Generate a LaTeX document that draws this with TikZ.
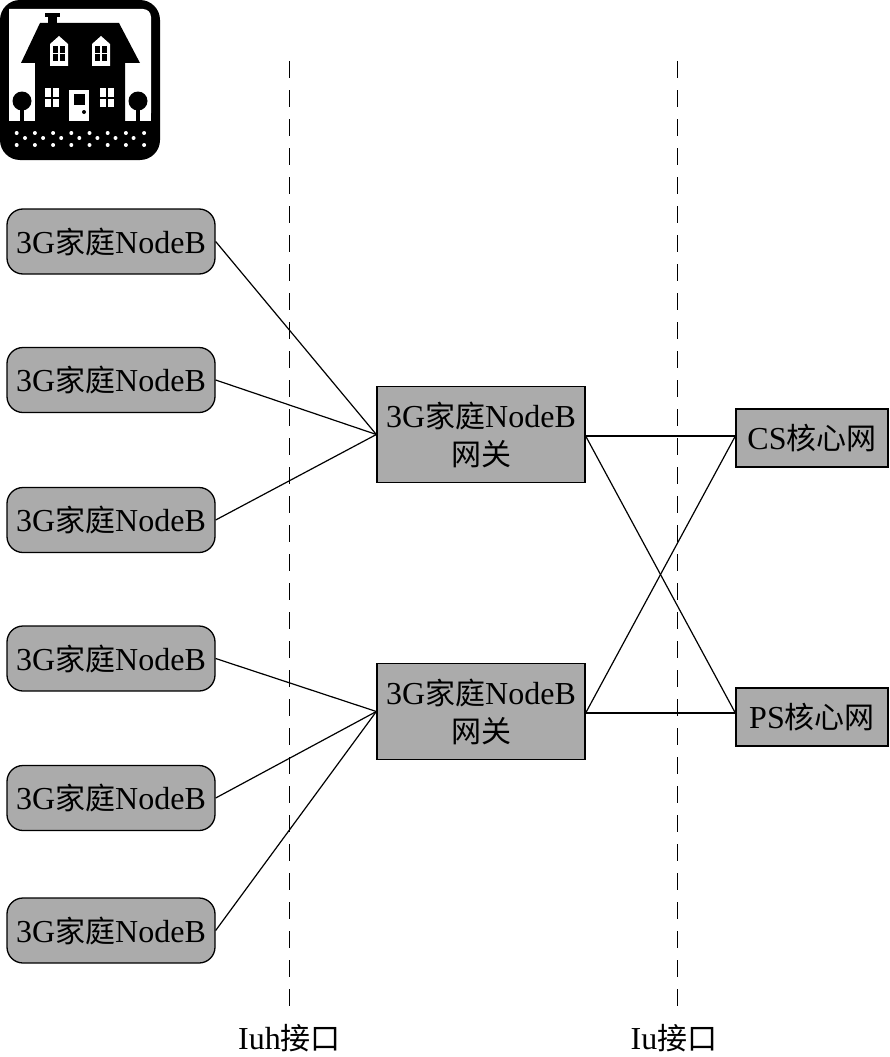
\documentclass[tikz,border=0pt]{standalone}
\usepackage{fontspec}
\setmainfont{Liberation Serif}
\newfontfamily\cjk{Noto Sans CJK SC}
\newcommand{\cn}[1]{{\cjk\fontsize{30}{34}\selectfont #1}}
\newcommand{\homeB}{3G\cn{家庭}NodeB}
\tikzset{
    homebox/.style={draw=black, fill=boxgray, rounded corners=16pt, line width=1.3pt,
        minimum width=208pt, minimum height=65pt, inner sep=0pt, font=\fontsize{32}{34}\selectfont},
    gwbox/.style={draw=black, fill=boxgray, line width=1.3pt, minimum width=208pt, minimum height=96pt,
        inner sep=0pt, align=center, font=\fontsize{32}{38}\selectfont},
    corebox/.style={draw=black, fill=boxgray, line width=1.3pt, minimum width=152pt, minimum height=58pt,
        inner sep=0pt, font=\fontsize{32}{34}\selectfont},
    link/.style={black, line width=1.2pt},
    iface/.style={black, line width=1pt, dash pattern=on 17pt off 12pt},
    ifacelabel/.style={inner sep=0pt, font=\fontsize{32}{34}\selectfont}
}
\definecolor{boxgray}{HTML}{ABABAB}
\begin{document}
\begin{tikzpicture}[x=1pt, y=-1pt]
    \useasboundingbox (0,0) rectangle (889,1057);

    % House picture
    \fill[black] (0,0) [rounded corners=20pt] rectangle (160,160);
    \fill[white, rounded corners=8pt] (9,9) -- (151,9) -- (151,121) -- (9,121) [sharp corners] -- cycle;
    \fill[white] (9,100) rectangle (151,122);
    \fill[black] (9,121) rectangle (151,150);
    \fill[black] (45,13) rectangle (60,17);
    \fill[black] (48,17) rectangle (57,24);
    \fill[black] (21,63) -- (40,23) -- (119,23) -- (140,63) -- (125,63) -- (125,122) -- (35,122) -- (35,63) -- cycle;

    % Upper windows
    \foreach \wx in {59,101} {
        \fill[white] (\wx-9,66) -- (\wx-9,44) -- (\wx,36) -- (\wx+9,44) -- (\wx+9,66) -- cycle;
        \foreach \px in {-6,1} \foreach \py in {46,54}
            \fill[black] (\wx+\px,\py) rectangle ++(5,7);
    }

    % Lower windows
    \foreach \wx in {45,100} {
        \fill[white] (\wx,88) rectangle ++(14,19);
        \fill[black] (\wx+6,88) rectangle ++(2,19);
        \fill[black] (\wx,96.5) rectangle ++(14,2);
    }

    % Door
    \fill[white] (69,90) rectangle (89,121);
    \fill[black] (74,94) rectangle (85,105);
    \fill[black] (84,112) circle (2);

    % Trees
    \foreach \tx in {22,138} {
        \fill[black] (\tx,101) circle (9.5);
        \fill[black] (\tx-1.7,105) rectangle (\tx+1.7,122);
    }

    % Ground dots
    \foreach \i in {0,...,7} {
        \fill[white] (16.7+18.2*\i,133) circle (2);
        \fill[white] (16.7+18.2*\i,145) circle (2);
    }
    \foreach \i in {0,...,6}
        \fill[white] (25+18.1*\i,138) circle (2);

    % Home NodeB boxes
    \node[homebox] (hnb1) at (111,241.5) {\homeB};
    \node[homebox] (hnb2) at (111,380) {\homeB};
    \node[homebox] (hnb3) at (111,520) {\homeB};
    \node[homebox] (hnb4) at (111,658.5) {\homeB};
    \node[homebox] (hnb5) at (111,798) {\homeB};
    \node[homebox] (hnb6) at (111,930.5) {\homeB};

    % Gateways
    \node[gwbox] (gw1) at (481,434.5) {\homeB\\\cn{网关}};
    \node[gwbox] (gw2) at (481,711.5) {\homeB\\\cn{网关}};

    % Core networks
    \node[corebox] (cs) at (812,438) {CS\cn{核心网}};
    \node[corebox] (ps) at (812,717) {PS\cn{核心网}};

    % Link ends on the gateways and core boxes
    \coordinate (gw1out) at ([yshift=-1.5pt]gw1.east);
    \coordinate (gw2out) at ([yshift=-1.5pt]gw2.east);
    \coordinate (csin) at (cs.west |- gw1out);
    \coordinate (psin) at (ps.west |- gw2out);

    % Links
    \foreach \n in {1,2,3}
        \draw[link] (hnb\n.east) -- (gw1.west);
    \foreach \n in {4,5,6}
        \draw[link] (hnb\n.east) -- (gw2.west);
    \draw[link] (gw1out) -- (csin);
    \draw[link] (gw1out) -- (psin);
    \draw[link] (gw2out) -- (csin);
    \draw[link] (gw2out) -- (psin);

    % Interfaces
    \coordinate (iuhtop) at (289,61);
    \coordinate (iutop) at (677,61);
    \node[ifacelabel] (iuh) at (289.5,1038) {Iuh\cn{接口}};
    \node[ifacelabel] (iu) at (674,1038) {Iu\cn{接口}};
    \coordinate (iuhend) at (289,1012);
    \coordinate (iuend) at (677,1012);
    \draw[iface] (iuhtop) -- (iuhend);
    \draw[iface] (iutop) -- (iuend);
\end{tikzpicture}
\end{document}
